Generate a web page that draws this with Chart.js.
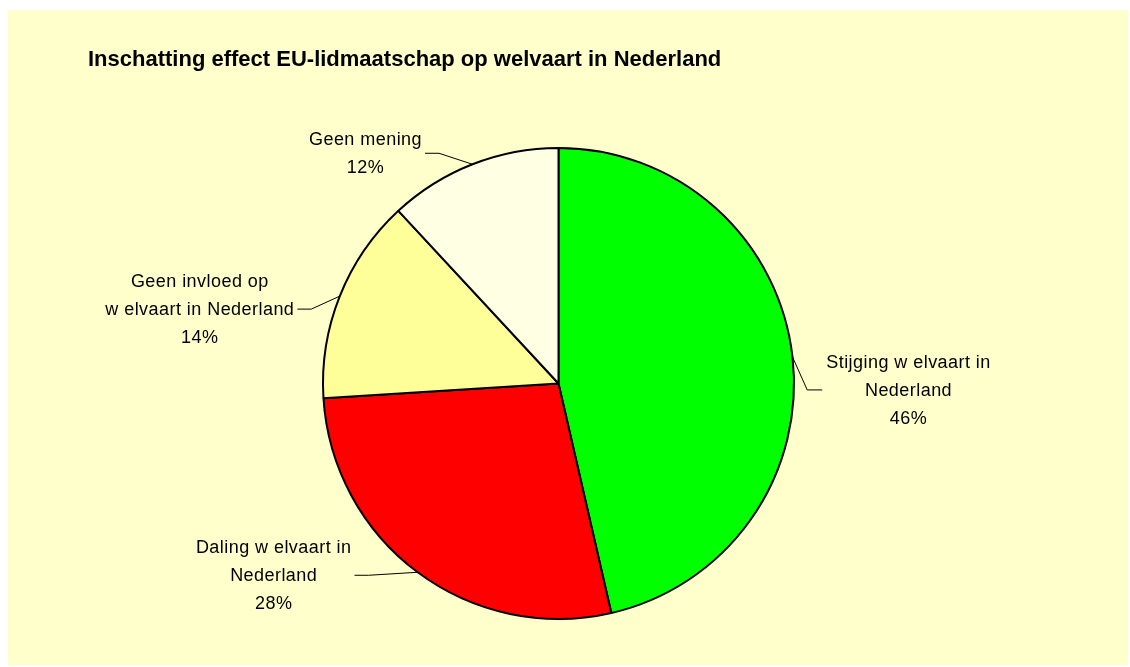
<!DOCTYPE html>
<html>
<head>
<meta charset="utf-8">
<script src="https://cdn.jsdelivr.net/npm/chart.js@4.4.1/dist/chart.umd.min.js"></script>
<style>
  html, body { margin: 0; padding: 0; background: #fff; }
  #wrap { position: relative; width: 1130px; height: 667px; }
</style>
</head>
<body>
<div id="wrap"><canvas id="pie-chart" width="1130" height="667"></canvas></div>
<script>
// Data
const chartTitle = 'Inschatting effect EU-lidmaatschap op welvaart in Nederland';
const categories = [
  ['Stijging w elvaart in', 'Nederland'],
  ['Daling w elvaart in', 'Nederland'],
  ['Geen invloed op', 'w elvaart in Nederland'],
  ['Geen mening']
];
const shares = [46.4, 27.6, 14.1, 11.9];
const sliceColors = ['#00ff00', '#ff0000', '#ffff99', '#ffffe3'];

// where each label sits, measured from the middle of its slice on the rim
const labelOffsets = [
  { dx: 116, dy: 33, side: 'right' },
  { dx: -144, dy: 3, side: 'left' },
  { dx: -140, dy: 13, side: 'left' },
  { dx: -107, dy: -11, side: 'left' }
];

const FONT = "'Liberation Sans', Arial, sans-serif";
const ctx = document.getElementById('pie-chart').getContext('2d');

// Background + title
const backgroundPlugin = {
  id: 'background',
  beforeDraw(chart) {
    const c = chart.ctx;
    c.save();
    c.fillStyle = '#ffffcc';
    c.fillRect(8, 10, 1120, 655);
    c.fillStyle = '#000';
    c.font = 'bold 22px ' + FONT;
    c.textBaseline = 'alphabetic';
    c.textAlign = 'left';
    c.fillText(chartTitle, 88, 66);
    c.restore();
  }
};

// Excel style labels with leader lines
const labelPlugin = {
  id: 'sliceLabels',
  afterDraw(chart) {
    const c = chart.ctx;
    const meta = chart.getDatasetMeta(0);
    const total = shares.reduce((a, b) => a + b, 0);
    c.save();
    c.font = '18px ' + FONT;
    c.letterSpacing = '0.45px';
    c.fillStyle = '#000';
    c.strokeStyle = '#000';
    c.lineWidth = 1;
    c.textAlign = 'center';
    c.textBaseline = 'alphabetic';

    meta.data.forEach((arc, i) => {
      const p = arc.getProps(['x', 'y', 'startAngle', 'endAngle', 'outerRadius'], true);
      const mid = (p.startAngle + p.endAngle) / 2;
      const ax = p.x + Math.cos(mid) * p.outerRadius;
      const ay = p.y + Math.sin(mid) * p.outerRadius;
      const off = labelOffsets[i];
      const cx = ax + off.dx;
      const cy = ay + off.dy;
      const pct = Math.round(shares[i] / total * 100);
      const lines = categories[i].concat([pct + '%']);
      const lineH = 28;
      const maxW = Math.max(...lines.map(t => c.measureText(t).width));

      lines.forEach((t, k) => {
        c.fillText(t, cx, cy - (lines.length - 1) * lineH / 2 + 6 + k * lineH);
      });

      const end = off.side === 'right' ? cx - maxW / 2 - 4 : cx + maxW / 2 + 3;
      const elbow = off.side === 'right' ? end - 15 : end + 14;
      c.beginPath();
      c.moveTo(ax, ay);
      c.lineTo(elbow, cy);
      c.lineTo(end, cy);
      c.stroke();
    });
    c.restore();
  }
};

new Chart(ctx, {
  type: 'pie',
  data: {
    labels: categories.map(l => l.join(' ')),
    datasets: [{
      data: shares,
      backgroundColor: sliceColors,
      borderColor: '#000',
      borderWidth: 2
    }]
  },
  options: {
    responsive: false,
    animation: false,
    layout: { padding: { top: 147, bottom: 47, left: 322, right: 335 } },
    plugins: {
      legend: { display: false },
      tooltip: { enabled: false },
      title: { display: false }
    }
  },
  plugins: [backgroundPlugin, labelPlugin]
});
</script>
</body>
</html>
